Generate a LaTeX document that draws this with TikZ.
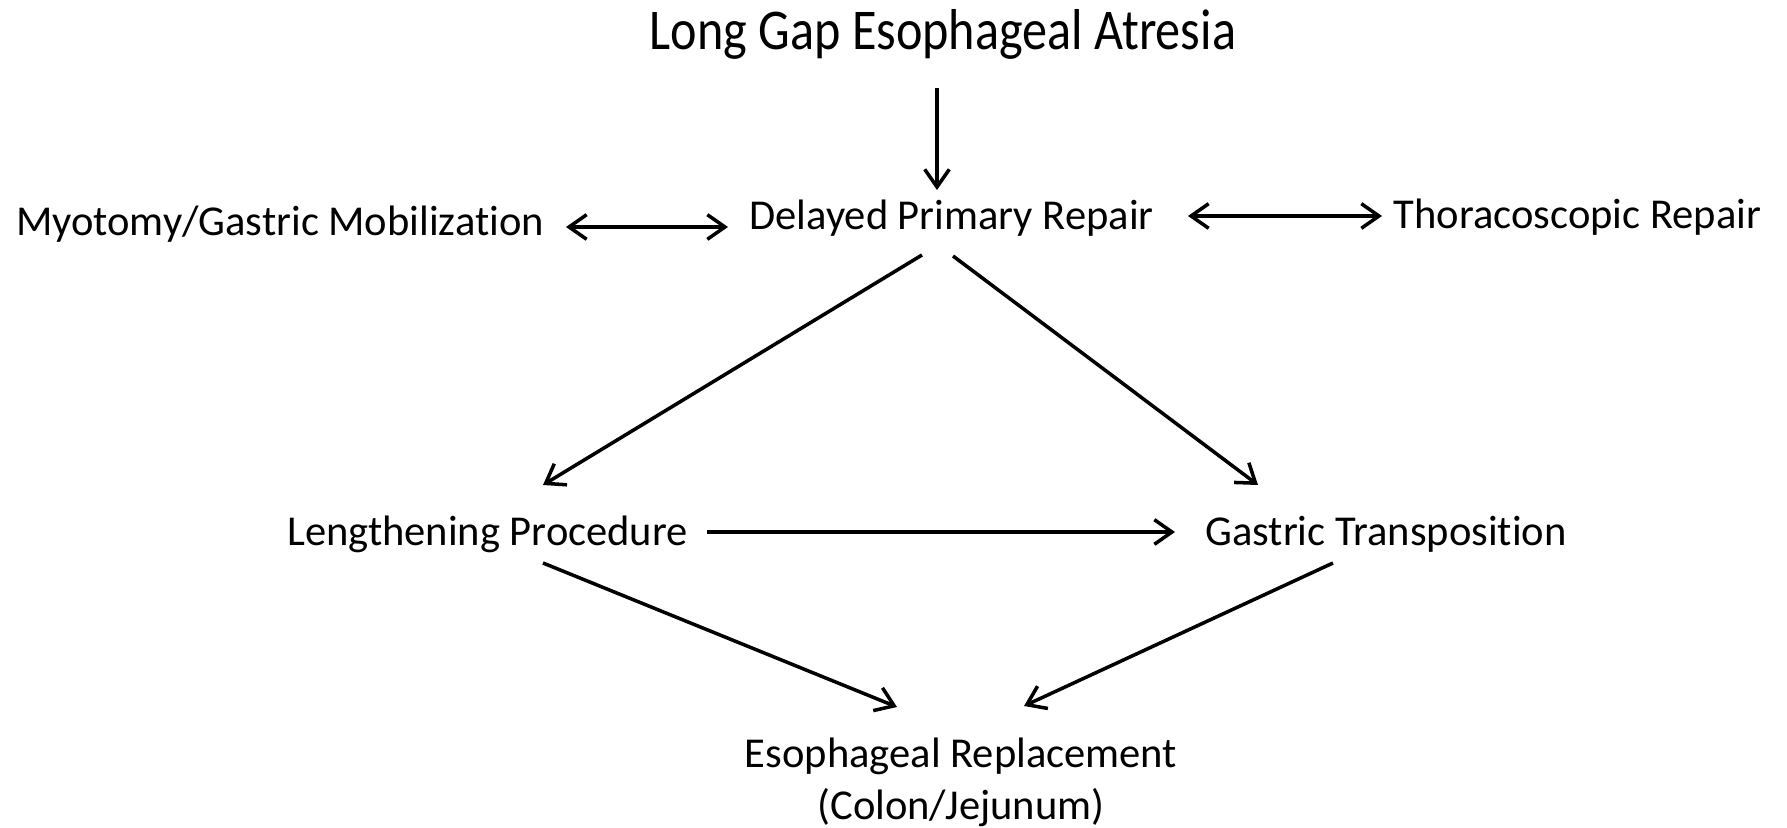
\documentclass[tikz,border=0pt]{standalone}
\usepackage{fontspec}
\setmainfont{Carlito}[Ligatures=NoCommon]
\newfontfamily\headfont[FakeStretch=0.87,Ligatures=NoCommon]{Carlito}
\usepackage{tikz}
\usetikzlibrary{arrows.meta}
\tikzstyle{stage}=[anchor=base, inner sep=0pt, font=\fontsize{12.1}{14.8}\selectfont]
\tikzstyle{headstage}=[anchor=base, inner sep=0pt, font=\headfont\fontsize{16.4}{19}\selectfont]
\tikzstyle{flow}=[-{Straight Barb[length=5pt,width=7pt]}, line width=1pt]
\tikzstyle{both}=[{Straight Barb[length=5pt,width=7pt]}-{Straight Barb[length=5pt,width=7pt]}, line width=1pt]

\begin{document}
\begin{tikzpicture}[x=0.01cm, y=-0.01cm]
\useasboundingbox (0,0) rectangle (1787,828);
\node[headstage] (lgea) at (943,50) {Long Gap Esophageal Atresia};
\node[stage] (dpr) at (951.5,230) {Delayed Primary Repair};
\node[stage] (myo) at (280,236) {Myotomy/Gastric Mobilization};
\node[stage] (thor) at (1577.5,229) {Thoracoscopic Repair};
\node[stage] (lp) at (487.5,546) {Lengthening Procedure};
\node[stage] (gt) at (1386,546) {Gastric Transposition};
\node[stage, align=center] (er) at (961,820) {Esophageal Replacement\\(Colon/Jejunum)};
\draw[flow] ([shift={(-6,38)}]lgea.base) -- ([shift={(-14.5,-40)}]dpr.base);
\draw[both] ([shift={(286,-9)}]myo.base) -- ([shift={(-223.5,-3)}]dpr.base);
\draw[both] ([shift={(236.5,-14)}]dpr.base) -- ([shift={(-195.5,-13)}]thor.base);
\draw[flow] ([shift={(-29.5,25)}]dpr.base) -- ([shift={(55.5,-61)}]lp.base);
\draw[flow] ([shift={(1.5,26)}]dpr.base) -- ([shift={(-128,-61)}]gt.base);
\draw[flow] ([shift={(219.5,-14)}]lp.base) -- ([shift={(-211,-14)}]gt.base);
\draw[flow] ([shift={(55.5,17)}]lp.base) -- ([shift={(-64,-113)}]er.base);
\draw[flow] ([shift={(-53,17)}]gt.base) -- ([shift={(63,-114)}]er.base);
\end{tikzpicture}
\end{document}
